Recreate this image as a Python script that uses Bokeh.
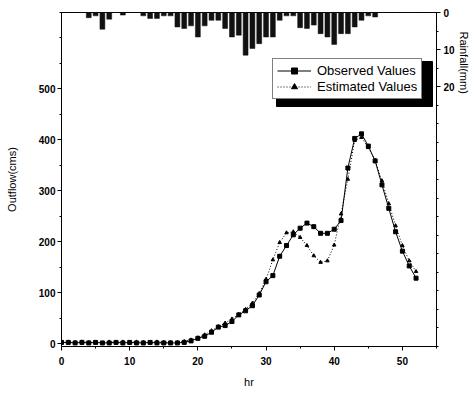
import numpy as np
from bokeh.plotting import figure
from bokeh.models import (Range1d, LinearAxis, FixedTicker, Legend, LegendItem,
                          Title, ColumnDataSource)
from bokeh.embed import file_html
from bokeh.resources import INLINE

# ---------------- data ----------------
hours = list(range(53))
observed = [3, 3, 2, 3, 2, 3, 2, 2, 3, 2, 3, 2, 2, 3, 2, 2, 2,
            2, 3, 6, 11, 15, 23, 33, 36, 44, 57,
            65, 75, 96, 122, 134, 172, 193, 214, 227, 237,
            230, 217, 217, 225, 242, 345, 403, 412, 388, 359,
            312, 266, 220, 182, 153, 129]
estimated = [2, 4, 3, 4, 3, 3, 2, 4, 3, 4, 3, 4, 3, 3, 4, 3, 3,
             3, 5, 8, 12, 18, 26, 34, 41, 49, 58,
             68, 80, 99, 127, 165, 199, 218, 220, 209, 193,
             173, 160, 163, 194, 255, 323, 399, 405, 385, 360,
             320, 275, 232, 193, 163, 142]
rainfall = [0, 0, 0, 0, 1.4, 0.9, 4.5, 1.8, 0, 0.7,
            0, 0, 0.9, 1.6, 1.6, 0.9, 0.9, 3.9, 4.3, 3.6,
            6.6, 3.6, 2.1, 2.1, 4.3, 6.6, 6.1, 11.5, 9.7, 8.4,
            6.6, 6.6, 2.1, 0.9, 0.9, 4.1, 4.3, 3.4, 5.7, 6.6,
            8.6, 5.7, 5.7, 3.9, 2.1, 0.9, 1.2, 0, 0, 0,
            0, 0, 0]

x_ticks = [0, 10, 20, 30, 40, 50]
y_ticks = [0, 100, 200, 300, 400, 500]
rain_ticks = [0, 10, 20]

# ---------------- layout ----------------
W, H = 473, 392
ML, MT = 61, 12
FW, FH = 375, 334
MR, MB = W - ML - FW, H - MT - FH
X0, X1 = 0, 55
Y0, Y1 = -5, 650
R_BOTTOM, R_TOP = 90, 0
FONT = "Liberation Sans"

p = figure(width=W, height=H, output_backend="svg", toolbar_location=None,
           x_range=Range1d(X0, X1), y_range=Range1d(Y0, Y1),
           min_border_left=ML, min_border_right=MR,
           min_border_top=MT, min_border_bottom=MB,
           background_fill_color="white", border_fill_color="white")
p.extra_y_ranges = {"rain": Range1d(R_BOTTOM, R_TOP)}
p.grid.visible = False
p.outline_line_color = "black"
p.outline_line_width = 1

# rainfall bars
p.vbar(x=hours, top=rainfall, bottom=0, width=0.72, y_range_name="rain",
       fill_color="#111111", line_color="#111111", line_width=0.5)

src = ColumnDataSource(dict(h=hours, obs=observed, est=estimated))
l_obs = p.line("h", "obs", source=src, line_color="black", line_width=1)
m_obs = p.scatter("h", "obs", source=src, marker="square", size=4,
                  fill_color="black", line_color="black")
l_est = p.line("h", "est", source=src, line_color="black", line_width=1,
               line_dash="1 2")
m_est = p.scatter("h", "est", source=src, marker="triangle", size=3.5,
                  fill_color="black", line_color="black")

def style_axis(ax):
    ax.axis_line_color = "black"
    ax.major_tick_line_color = "black"
    ax.minor_tick_line_color = "black"
    ax.major_label_text_font = FONT
    ax.major_label_text_font_size = "10px"
    ax.major_label_text_font_style = "bold"
    ax.major_label_text_color = "black"
    ax.axis_label_text_font = FONT
    ax.axis_label_text_font_size = "11px"
    ax.axis_label_text_font_style = "normal"
    ax.axis_label_text_color = "black"

xa = p.xaxis[0]
xa.ticker = FixedTicker(ticks=x_ticks, minor_ticks=list(np.arange(0, 56, 5)))
xa.axis_label = "hr"
xa.major_tick_out = 4
xa.major_tick_in = 0
xa.minor_tick_out = 2
xa.minor_tick_in = 0
xa.major_label_standoff = 6
xa.axis_label_standoff = 8
style_axis(xa)

ya = p.yaxis[0]
ya.ticker = FixedTicker(ticks=y_ticks, minor_ticks=list(np.arange(0, 651, 50)))
ya.axis_label = "Outflow(cms)"
ya.major_tick_out = 4
ya.major_tick_in = 0
ya.minor_tick_out = 2
ya.minor_tick_in = 0
ya.major_label_standoff = 2
ya.axis_label_standoff = 18
style_axis(ya)

ra = LinearAxis(y_range_name="rain",
                ticker=FixedTicker(ticks=rain_ticks,
                                   minor_ticks=list(np.arange(0, 91, 5))))
ra.major_tick_out = 4
ra.major_tick_in = 0
ra.minor_tick_out = 2
ra.minor_tick_in = 0
ra.major_label_standoff = 3
style_axis(ra)
p.add_layout(ra, "right")

# right-hand axis title, near the labelled top part of the rainfall axis
p.add_layout(Title(text="Rainfall(mm)", align="left", offset=19, standoff=1,
                   text_font=FONT, text_font_size="11px",
                   text_font_style="normal", text_color="black"), "right")

# legend with drop shadow (right and bottom)
LX, LY, LWD, LHT, SH = 211, 247, 156, 42, 4
sx = (X1 - X0) / FW
sy = (Y1 - Y0) / FH
p.quad(left=X0 + (LX + SH) * sx, right=X0 + (LX + LWD + SH) * sx,
       bottom=Y0 + (LY - SH - 3) * sy, top=Y0 + (LY + LHT - SH) * sy,
       fill_color="black", line_color="black")

legend = Legend(items=[LegendItem(label="Observed Values", renderers=[l_obs, m_obs]),
                       LegendItem(label="Estimated Values", renderers=[l_est, m_est])],
                location=(LX, LY))
legend.border_line_color = "black"
legend.border_line_width = 1
legend.background_fill_color = "white"
legend.background_fill_alpha = 1
legend.padding = 4
legend.spacing = 1
legend.margin = 0
legend.label_height = 15
legend.glyph_height = 15
legend.glyph_width = 34
legend.label_standoff = 6
legend.label_text_font = FONT
legend.label_text_font_size = "13px"
legend.label_text_color = "black"
p.add_layout(legend, "center")

open("out.html", "w").write(file_html(p, INLINE))
